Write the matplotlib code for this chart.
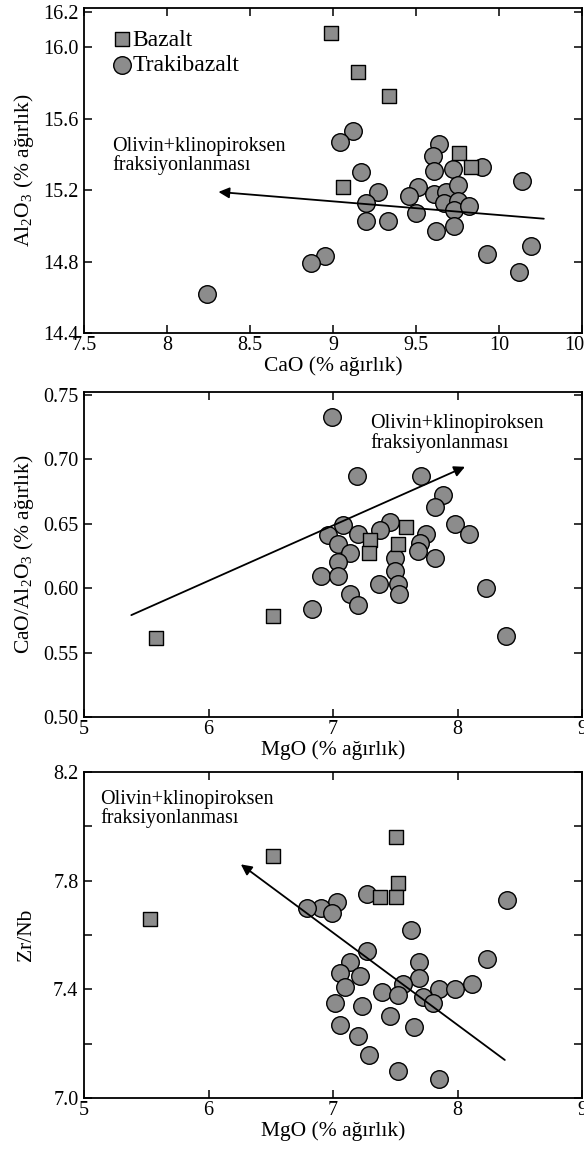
import matplotlib
matplotlib.use("Agg")
import matplotlib.pyplot as plt
from matplotlib.ticker import FixedLocator, FuncFormatter

plt.rcParams["font.family"] = ["Liberation Serif", "DejaVu Serif"]
plt.rcParams["mathtext.fontset"] = "custom"
plt.rcParams["mathtext.rm"] = "Liberation Serif"

# ---------------------------------------------------------------------------
# Panel 1: CaO vs Al2O3
# ---------------------------------------------------------------------------
cao_baz = [8.99, 9.15, 9.34, 9.76, 9.83, 9.06]
al_baz = [16.08, 15.86, 15.73, 15.41, 15.33, 15.22]

cao_trak = [9.12, 9.04, 9.64, 9.60, 9.61, 9.72, 9.90, 9.17, 10.14, 9.27,
            9.20, 9.51, 9.46, 9.61, 9.68, 9.75, 9.67, 9.75, 9.73, 9.82,
            9.50, 9.20, 9.33, 9.62, 9.73, 9.93, 10.19, 10.12, 8.95, 8.87,
            8.24]
al_trak = [15.53, 15.47, 15.46, 15.39, 15.31, 15.32, 15.33, 15.30, 15.25, 15.19,
           15.13, 15.22, 15.17, 15.18, 15.19, 15.23, 15.13, 15.14, 15.09, 15.11,
           15.07, 15.03, 15.03, 14.97, 15.00, 14.84, 14.89, 14.74, 14.83, 14.79,
           14.62]

x1_ticks = [7.5, 8, 8.5, 9, 9.5, 10, 10.5]
y1_ticks = [14.4, 14.8, 15.2, 15.6, 16.0, 16.2]

arrow1_tail = (10.27, 15.04)
arrow1_head = (8.31, 15.19)

# ---------------------------------------------------------------------------
# Panel 2: MgO vs CaO/Al2O3
# ---------------------------------------------------------------------------
mg2_baz = [7.59, 7.30, 7.52, 7.29, 6.52, 5.58]
ratio_baz = [0.647, 0.637, 0.634, 0.627, 0.578, 0.561]

mg2_trak = [6.99, 7.19, 7.71, 7.88, 7.82, 7.98, 8.09, 7.08, 6.96, 7.20,
            7.46, 7.38, 7.75, 7.70, 7.68, 7.82, 7.04, 7.14, 7.04, 7.50,
            7.50, 6.90, 7.04, 7.37, 7.52, 7.53, 7.14, 7.20, 6.83, 8.23,
            8.39]
ratio_trak = [0.733, 0.687, 0.687, 0.672, 0.663, 0.650, 0.642, 0.649, 0.641, 0.642,
              0.651, 0.645, 0.642, 0.635, 0.629, 0.623, 0.634, 0.627, 0.620, 0.623,
              0.613, 0.609, 0.609, 0.603, 0.603, 0.595, 0.595, 0.587, 0.584, 0.600,
              0.563]

mg_ticks = [5, 6, 7, 8, 9]
y2_ticks = [0.50, 0.55, 0.60, 0.65, 0.70, 0.75]

arrow2_tail = (5.38, 0.579)
arrow2_head = (8.06, 0.694)

# ---------------------------------------------------------------------------
# Panel 3: MgO vs Zr/Nb
# ---------------------------------------------------------------------------
mg3_baz = [7.51, 6.52, 5.53, 7.52, 7.38, 7.51]
zrnb_baz = [7.96, 7.89, 7.66, 7.79, 7.74, 7.74]

mg3_trak = [7.27, 8.40, 7.03, 6.90, 6.79, 6.99, 7.63, 7.27, 7.69, 8.24,
            7.14, 7.06, 7.22, 7.69, 7.10, 7.56, 7.85, 7.98, 8.12, 7.39,
            7.52, 7.72, 7.80, 7.02, 7.23, 7.46, 7.06, 7.65, 7.20, 7.29,
            7.52, 7.85]
zrnb_trak = [7.75, 7.73, 7.72, 7.70, 7.70, 7.68, 7.62, 7.54, 7.50, 7.51,
             7.50, 7.46, 7.45, 7.44, 7.41, 7.42, 7.40, 7.40, 7.42, 7.39,
             7.38, 7.37, 7.35, 7.35, 7.34, 7.30, 7.27, 7.26, 7.23, 7.16,
             7.10, 7.07]

y3_ticks = [7.0, 7.4, 7.8, 8.2]
y3_minor = [7.2, 7.6, 8.0]

arrow3_tail = (8.38, 7.14)
arrow3_head = (6.26, 7.86)

NOTE = "Olivin+klinopiroksen\nfraksiyonlanması"
FILL = "#8c8c8c"

# ---------------------------------------------------------------------------
# Figure
# ---------------------------------------------------------------------------
W, H = 584, 1151
fig = plt.figure(figsize=(W / 100, H / 100), dpi=100)


def make_axes(top_px, bottom_px, left_px=84, right_px=582):
    return fig.add_axes([left_px / W, 1 - bottom_px / H,
                         (right_px - left_px) / W, (bottom_px - top_px) / H])


def style(ax):
    for s in ax.spines.values():
        s.set_linewidth(1.3)
    ax.tick_params(which="both", direction="in", top=True, right=True,
                   length=6, width=1.1, labelsize=14.5, pad=4)
    ax.tick_params(axis="x", pad=2)


def draw(ax, xb, yb, xt, yt):
    ax.scatter(xt, yt, s=160, marker="o", facecolor=FILL, edgecolor="black",
               linewidth=1.0, zorder=3, label="Trakibazalt")
    ax.scatter(xb, yb, s=105, marker="s", facecolor=FILL, edgecolor="black",
               linewidth=1.0, zorder=4, label="Bazalt")


def arrow(ax, tail, head):
    ax.annotate("", xy=head, xytext=tail, zorder=5,
                arrowprops=dict(arrowstyle="-|>", color="black", lw=1.3,
                                mutation_scale=16, shrinkA=0, shrinkB=0))


def note(ax, x, y):
    ax.text(x, y, NOTE, fontsize=14.5, va="top", ha="left", linespacing=0.98)


# ---- Panel 1 --------------------------------------------------------------
ax1 = make_axes(8, 333)
draw(ax1, cao_baz, al_baz, cao_trak, al_trak)
arrow(ax1, arrow1_tail, arrow1_head)
ax1.set_xlim(7.5, 10.5)
ax1.set_ylim(14.4, 16.22)
ax1.xaxis.set_major_locator(FixedLocator(x1_ticks))
ax1.xaxis.set_major_formatter(FuncFormatter(lambda v, _: f"{v:g}"))
ax1.yaxis.set_major_locator(FixedLocator(y1_ticks))
ax1.yaxis.set_major_formatter(FuncFormatter(lambda v, _: f"{v:.1f}"))
style(ax1)
ax1.set_xlabel("CaO (% ağırlık)", fontsize=15.5, labelpad=1)
ax1.set_ylabel("Al$_2$O$_3$ (% ağırlık)", fontsize=15.5, labelpad=5)
note(ax1, 7.67, 15.50)
h, l = ax1.get_legend_handles_labels()
ax1.legend(h[::-1], l[::-1], loc="upper left", bbox_to_anchor=(0.047, 0.935),
           frameon=False, fontsize=17, handletextpad=-0.15, labelspacing=0.15,
           borderaxespad=0.0, handlelength=1.2, borderpad=0.0)

# ---- Panel 2 --------------------------------------------------------------
ax2 = make_axes(392, 717)
draw(ax2, mg2_baz, ratio_baz, mg2_trak, ratio_trak)
arrow(ax2, arrow2_tail, arrow2_head)
ax2.set_xlim(5, 9)
ax2.set_ylim(0.50, 0.752)
ax2.xaxis.set_major_locator(FixedLocator(mg_ticks))
ax2.yaxis.set_major_locator(FixedLocator(y2_ticks))
ax2.yaxis.set_major_formatter(FuncFormatter(lambda v, _: f"{v:.2f}"))
style(ax2)
ax2.set_xlabel("MgO (% ağırlık)", fontsize=15.5, labelpad=1)
ax2.set_ylabel("CaO/Al$_2$O$_3$ (% ağırlık)", fontsize=15.5, labelpad=5)
note(ax2, 7.30, 0.735)

# ---- Panel 3 --------------------------------------------------------------
ax3 = make_axes(772, 1098)
draw(ax3, mg3_baz, zrnb_baz, mg3_trak, zrnb_trak)
arrow(ax3, arrow3_tail, arrow3_head)
ax3.set_xlim(5, 9)
ax3.set_ylim(7.0, 8.2)
ax3.xaxis.set_major_locator(FixedLocator(mg_ticks))
ax3.yaxis.set_major_locator(FixedLocator(y3_ticks))
ax3.yaxis.set_minor_locator(FixedLocator(y3_minor))
ax3.yaxis.set_major_formatter(FuncFormatter(lambda v, _: f"{v:.1f}"))
style(ax3)
ax3.set_xlabel("MgO (% ağırlık)", fontsize=15.5, labelpad=1)
ax3.set_ylabel("Zr/Nb", fontsize=15.5, labelpad=12)
note(ax3, 5.13, 8.135)

fig.savefig("out.png", dpi=100)
